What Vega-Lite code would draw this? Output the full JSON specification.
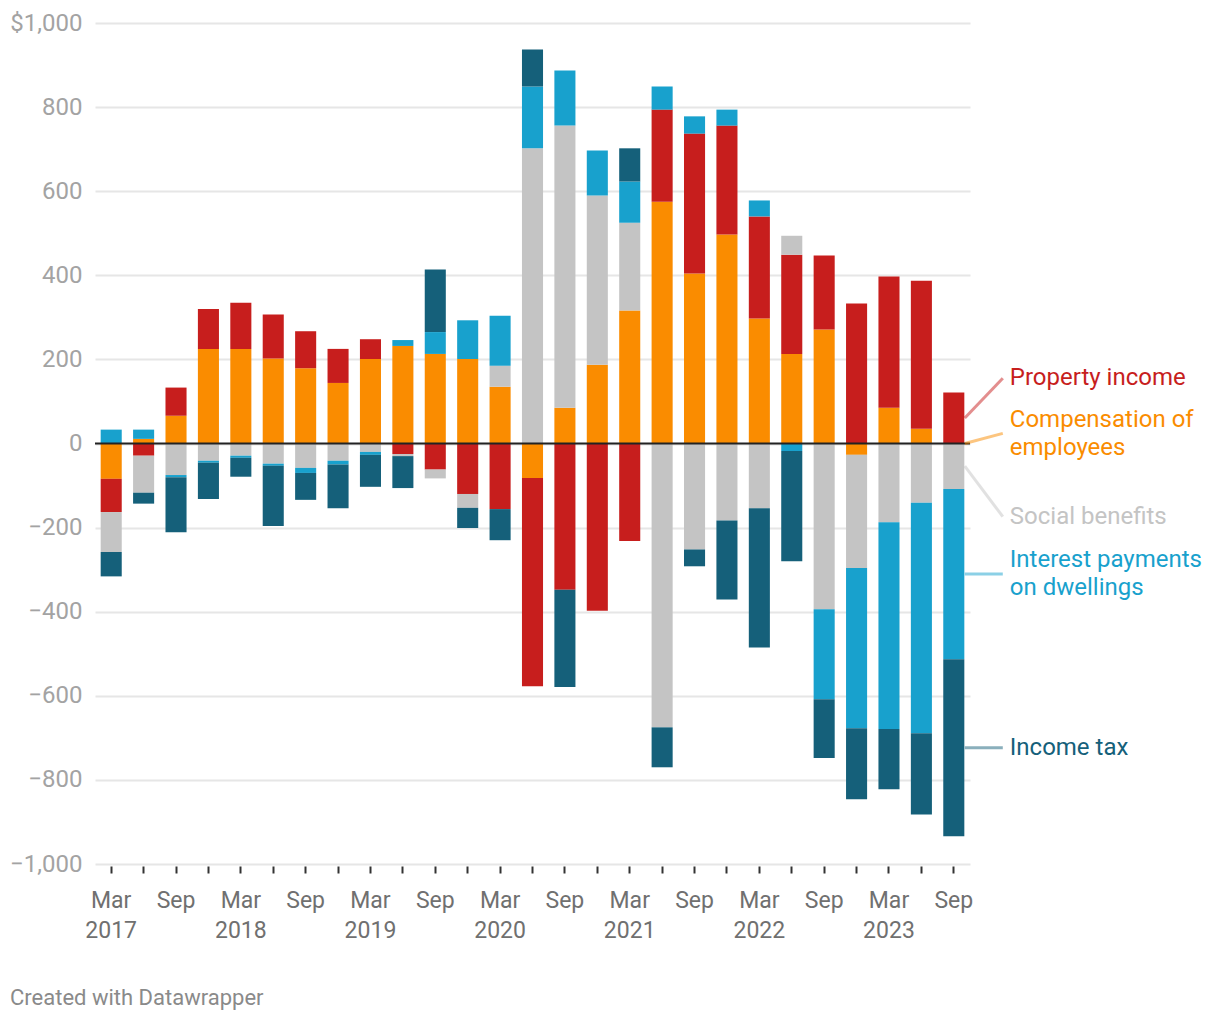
{
  "$schema": "https://vega.github.io/schema/vega-lite/v6.json",
  "width": 875,
  "height": 841,
  "autosize": {"type": "none"},
  "padding": {"left": 95, "top": 23, "right": 250, "bottom": 156},
  "background": "white",
  "config": {"font": "Roboto", "view": {"stroke": null}},
  "title": {
    "text": "Created with Datawrapper",
    "orient": "bottom",
    "anchor": "start",
    "frame": "group",
    "dx": -85,
    "offset": 46,
    "fontSize": 22,
    "fontWeight": "normal",
    "color": "#8a8a8a",
    "font": "Roboto"
  },
  "datasets": {
    "quarters": [
      {"q": "Mar 2017", "comp": -84, "prop": -79, "social": -95, "interest": 33, "tax": -58},
      {"q": "Jun 2017", "comp": 11, "prop": -29, "social": -88, "interest": 22, "tax": -26},
      {"q": "Sep 2017", "comp": 66, "prop": 67, "social": -75, "interest": -5, "tax": -131},
      {"q": "Dec 2017", "comp": 225, "prop": 95, "social": -41, "interest": -5, "tax": -86},
      {"q": "Mar 2018", "comp": 225, "prop": 110, "social": -29, "interest": -5, "tax": -45},
      {"q": "Jun 2018", "comp": 202, "prop": 105, "social": -48, "interest": -5, "tax": -143},
      {"q": "Sep 2018", "comp": 179, "prop": 88, "social": -58, "interest": -12, "tax": -64},
      {"q": "Dec 2018", "comp": 144, "prop": 81, "social": -41, "interest": -9, "tax": -104},
      {"q": "Mar 2019", "comp": 201, "prop": 47, "social": -20, "interest": -7, "tax": -76},
      {"q": "Jun 2019", "comp": 232, "prop": -25, "social": -5, "interest": 14, "tax": -76},
      {"q": "Sep 2019", "comp": 213, "prop": -62, "social": -21, "interest": 52, "tax": 149},
      {"q": "Dec 2019", "comp": 201, "prop": -120, "social": -33, "interest": 92, "tax": -48},
      {"q": "Mar 2020", "comp": 135, "prop": -156, "social": 50, "interest": 119, "tax": -74},
      {"q": "Jun 2020", "comp": -82, "prop": -495, "social": 702, "interest": 147, "tax": 88},
      {"q": "Sep 2020", "comp": 85, "prop": -348, "social": 671, "interest": 131, "tax": -231},
      {"q": "Dec 2020", "comp": 187, "prop": -398, "social": 403, "interest": 107, "tax": 0},
      {"q": "Mar 2021", "comp": 316, "prop": -232, "social": 209, "interest": 98, "tax": 79},
      {"q": "Jun 2021", "comp": 575, "prop": 219, "social": -675, "interest": 55, "tax": -95},
      {"q": "Sep 2021", "comp": 404, "prop": 333, "social": -252, "interest": 41, "tax": -40},
      {"q": "Dec 2021", "comp": 497, "prop": 259, "social": -183, "interest": 38, "tax": -188},
      {"q": "Mar 2022", "comp": 297, "prop": 243, "social": -154, "interest": 38, "tax": -331},
      {"q": "Jun 2022", "comp": 213, "prop": 236, "social": 45, "interest": -18, "tax": -262},
      {"q": "Sep 2022", "comp": 271, "prop": 176, "social": -394, "interest": -214, "tax": -140},
      {"q": "Dec 2022", "comp": -27, "prop": 333, "social": -269, "interest": -381, "tax": -169},
      {"q": "Mar 2023", "comp": 85, "prop": 312, "social": -187, "interest": -492, "tax": -143},
      {"q": "Jun 2023", "comp": 35, "prop": 352, "social": -141, "interest": -548, "tax": -193},
      {"q": "Sep 2023", "comp": 0, "prop": 121, "social": -108, "interest": -405, "tax": -421}
    ],
    "labels": [
      {"series": "prop", "name": "Property income", "ly": 155, "ty": 155},
      {"series": "comp", "name": "Compensation of\nemployees", "ly": 24, "ty": 55},
      {"series": "social", "name": "Social benefits", "ly": -174, "ty": -174},
      {"series": "interest", "name": "Interest payments\non dwellings", "ly": -310.5, "ty": -278},
      {"series": "tax", "name": "Income tax", "ly": -723.5, "ty": -723.5}
    ]
  },
  "layer": [
    {
      "data": {"name": "quarters"},
      "transform": [
        {"fold": ["comp", "prop", "social", "interest", "tax"], "as": ["series", "value"]},
        {"calculate": "indexof(['comp','prop','social','interest','tax'], datum.series)", "as": "ord"}
      ],
      "mark": {"type": "bar"},
      "encoding": {
        "x": {
          "field": "q",
          "type": "ordinal",
          "sort": null,
          "scale": {
            "domain": ["Mar 2017", "Jun 2017", "Sep 2017", "Dec 2017", "Mar 2018", "Jun 2018", "Sep 2018", "Dec 2018", "Mar 2019", "Jun 2019", "Sep 2019", "Dec 2019", "Mar 2020", "Jun 2020", "Sep 2020", "Dec 2020", "Mar 2021", "Jun 2021", "Sep 2021", "Dec 2021", "Mar 2022", "Jun 2022", "Sep 2022", "Dec 2022", "Mar 2023", "Jun 2023", "Sep 2023"],
            "paddingInner": 0.35,
            "paddingOuter": 0.175
          },
          "axis": {
            "title": null,
            "domain": false,
            "grid": false,
            "ticks": true,
            "tickSize": 7,
            "tickWidth": 2,
            "tickColor": "#333333",
            "offset": 2,
            "labelAngle": 0,
            "labelOverlap": false,
            "labelFontSize": 23,
            "labelColor": "#707070",
            "labelPadding": 16,
            "labelLineHeight": 30,
            "labelExpr": "indexof(datum.label,'Mar')==0 ? split(datum.label,' ') : (indexof(datum.label,'Sep')==0 ? 'Sep' : '')"
          }
        },
        "y": {
          "field": "value",
          "type": "quantitative",
          "stack": "zero",
          "scale": {"domain": [-1000, 1000], "nice": false},
          "axis": {
            "title": null,
            "domain": false,
            "ticks": false,
            "values": [-1000, -800, -600, -400, -200, 0, 200, 400, 600, 800, 1000],
            "grid": true,
            "gridColor": "#e6e6e6",
            "gridWidth": 2,
            "format": ",d",
            "labelFontSize": 24,
            "labelColor": "#a3a3a3",
            "labelPadding": 13,
            "labelExpr": "datum.value == 1000 ? '$1,000' : datum.label"
          }
        },
        "color": {
          "field": "series",
          "type": "nominal",
          "scale": {
            "domain": ["comp", "prop", "social", "interest", "tax"],
            "range": ["#fa8c00", "#c71e1d", "#c4c4c4", "#18a1cd", "#15607a"]
          },
          "legend": null
        },
        "order": {"field": "ord", "type": "quantitative"}
      }
    },
    {
      "data": {"values": [{}]},
      "mark": {"type": "rule", "color": "#222222", "strokeWidth": 2},
      "encoding": {"y": {"datum": 0}}
    },
    {
      "data": {"name": "quarters"},
      "transform": [
        {"filter": "datum.q == 'Sep 2023'"},
        {"fold": ["comp", "prop", "social", "interest", "tax"], "as": ["series", "value"]},
        {"calculate": "indexof(['comp','prop','social','interest','tax'], datum.series)", "as": "ord"},
        {"stack": "value", "groupby": ["q"], "sort": [{"field": "ord", "order": "ascending"}], "as": ["v0", "v1"], "offset": "zero"},
        {"calculate": "(datum.v0 + datum.v1) / 2", "as": "mid"},
        {"lookup": "series", "from": {"data": {"name": "labels"}, "key": "series", "fields": ["name", "ly"]}}
      ],
      "mark": {"type": "rule", "strokeWidth": 3, "opacity": 0.5, "xOffset": 11, "x2Offset": 49},
      "encoding": {
        "x": {"field": "q", "type": "ordinal", "sort": null},
        "x2": {"field": "q"},
        "y": {"field": "mid", "type": "quantitative"},
        "y2": {"field": "ly"},
        "color": {"field": "series", "type": "nominal"}
      }
    },
    {
      "data": {"name": "labels"},
      "mark": {"type": "text", "align": "left", "baseline": "middle", "dx": 56, "fontSize": 24, "lineBreak": "\n", "lineHeight": 28},
      "encoding": {
        "x": {"datum": "Sep 2023"},
        "y": {"field": "ty", "type": "quantitative"},
        "text": {"field": "name"},
        "color": {"field": "series", "type": "nominal"}
      }
    }
  ]
}
